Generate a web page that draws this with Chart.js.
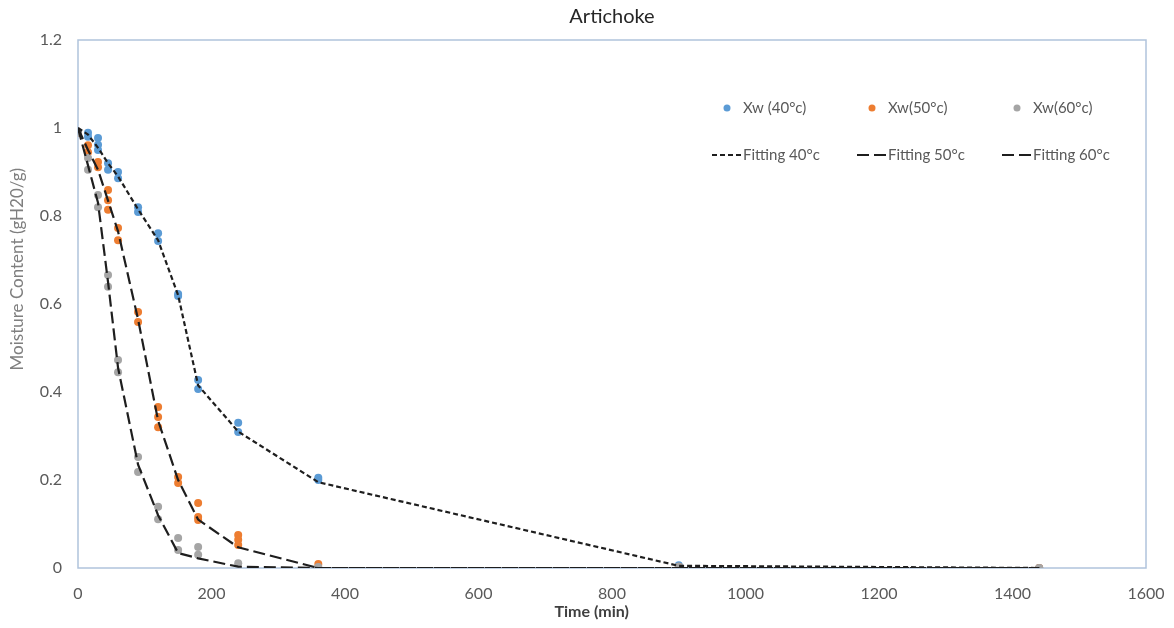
<!DOCTYPE html>
<html>
<head>
<meta charset="utf-8">
<script src="https://cdn.jsdelivr.net/npm/chart.js@4/dist/chart.umd.min.js"></script>
<style>
  html, body { margin: 0; padding: 0; background: #ffffff; }
  canvas { display: block; }
</style>
</head>
<body>
<canvas id="chart" width="1174" height="628"></canvas>
<script>
// Measured moisture content Xw (gH2O/g) against drying time (min), replicates included
const obsTime40 = [0, 15, 15, 30, 30, 30, 45, 45, 60, 60, 90, 90, 120, 120, 150, 150, 180, 180, 240, 240, 360, 360, 900, 1440];
const obsXw40   = [0.99, 0.989, 0.98, 0.977, 0.962, 0.95, 0.92, 0.905, 0.9, 0.886, 0.82, 0.809, 0.761, 0.743, 0.623, 0.618, 0.427, 0.407, 0.33, 0.309, 0.205, 0.2, 0.006, 0.0];

const obsTime50 = [0, 15, 15, 30, 30, 45, 45, 45, 60, 60, 90, 90, 120, 120, 120, 150, 150, 180, 180, 180, 240, 240, 240, 360, 900, 1440];
const obsXw50   = [0.99, 0.961, 0.945, 0.923, 0.911, 0.859, 0.836, 0.814, 0.773, 0.745, 0.582, 0.559, 0.366, 0.343, 0.32, 0.207, 0.193, 0.148, 0.116, 0.109, 0.075, 0.064, 0.052, 0.009, 0.003, 0.0];

const obsTime60 = [0, 15, 15, 30, 30, 45, 45, 60, 60, 90, 90, 120, 120, 150, 150, 180, 180, 240, 360, 900, 1440];
const obsXw60   = [0.99, 0.932, 0.905, 0.848, 0.82, 0.666, 0.639, 0.473, 0.445, 0.252, 0.218, 0.139, 0.111, 0.068, 0.041, 0.048, 0.03, 0.011, 0.002, 0.003, 0.0];

// Fitted drying curves, evaluated at the sampling times
const fitTime = [0, 15, 30, 45, 60, 90, 120, 150, 180, 240, 360, 900, 1440];
const fit40   = [1.0, 0.985, 0.955, 0.92, 0.89, 0.815, 0.745, 0.62, 0.415, 0.31, 0.195, 0.005, 0.0];
const fit50   = [1.0, 0.95, 0.905, 0.835, 0.765, 0.565, 0.335, 0.2, 0.11, 0.047, 0.0, 0.0, 0.0];
const fit60   = [1.0, 0.915, 0.83, 0.65, 0.455, 0.235, 0.12, 0.034, 0.022, 0.003, 0.0, 0.0, 0.0];

// Axis ticks
const xTickValues = [0, 200, 400, 600, 800, 1000, 1200, 1400, 1600];
const yTickValues = [0, 0.2, 0.4, 0.6, 0.8, 1, 1.2];

const FONT = 'Lato, "Open Sans", "Liberation Sans", sans-serif';
const TEXT_GREY = '#595959';

const toPoints = (xs, ys) => xs.map((x, i) => ({ x: x, y: ys[i] }));

function pointSeries(label, xs, ys, color, order) {
  return {
    label: label,
    data: toPoints(xs, ys),
    showLine: false,
    pointRadius: 4,
    pointHoverRadius: 4,
    pointBackgroundColor: color,
    pointBorderWidth: 0,
    borderColor: color,
    backgroundColor: color,
    order: order
  };
}

function fitSeries(label, ys, dash) {
  return {
    label: label,
    data: toPoints(fitTime, ys),
    showLine: true,
    pointRadius: 0,
    borderColor: '#1E1E1E',
    borderWidth: 2.2,
    borderDash: dash,
    tension: 0,
    fill: false,
    order: 0
  };
}

// Chart title, axis titles, plot-area frame and the two-row legend
const framePlugin = {
  id: 'frame',
  beforeDatasetsDraw(chart) {
    const a = chart.chartArea;
    const ctx = chart.ctx;
    ctx.save();
    ctx.strokeStyle = '#B0C3DC';
    ctx.lineWidth = 1.5;
    ctx.strokeRect(a.left, a.top, a.right - a.left, a.bottom - a.top);
    ctx.restore();
  },
  afterDraw(chart) {
    const a = chart.chartArea;
    const ctx = chart.ctx;
    const w = a.right - a.left;
    const h = a.bottom - a.top;
    ctx.save();

    // chart title, centred over the plot area
    ctx.fillStyle = '#262626';
    ctx.font = '20px ' + FONT;
    ctx.textAlign = 'center';
    ctx.textBaseline = 'middle';
    ctx.fillText('Artichoke', a.left + w / 2, 17);

    // x axis title
    ctx.fillStyle = '#404040';
    ctx.font = 'bold 16px ' + FONT;
    ctx.fillText('Time (min)', a.left + w * 0.481, 612);

    // y axis title
    ctx.save();
    ctx.translate(18, a.top + h * 0.434);
    ctx.rotate(-Math.PI / 2);
    ctx.fillStyle = '#7F7F7F';
    ctx.font = '17px ' + FONT;
    ctx.fillText('Moisture Content (gH20/g)', 0, 0);
    ctx.restore();

    // legend: markers in the first row, fitted curves in the second
    const cols = [712, 857, 1002];
    const rows = [108, 155];
    ctx.font = '15px ' + FONT;
    ctx.textAlign = 'left';
    ctx.textBaseline = 'middle';
    chart.data.datasets.forEach((ds, i) => {
      const row = i < 3 ? 0 : 1;
      const col = cols[i % 3];
      const y = rows[row];
      if (row === 0) {
        ctx.beginPath();
        ctx.fillStyle = ds.pointBackgroundColor;
        ctx.arc(col + 15, y, 3.5, 0, Math.PI * 2);
        ctx.fill();
      } else {
        ctx.beginPath();
        ctx.strokeStyle = ds.borderColor;
        ctx.lineWidth = ds.borderWidth;
        ctx.setLineDash(ds.borderDash);
        ctx.moveTo(col, y);
        ctx.lineTo(col + 30, y);
        ctx.stroke();
        ctx.setLineDash([]);
      }
      ctx.fillStyle = TEXT_GREY;
      ctx.fillText(ds.label, col + 31, y);
    });
    ctx.restore();
  }
};

new Chart(document.getElementById('chart'), {
  type: 'scatter',
  data: {
    datasets: [
      pointSeries('Xw (40°c)', obsTime40, obsXw40, '#5B9BD5', 3),
      pointSeries('Xw(50°c)', obsTime50, obsXw50, '#ED7D31', 2),
      pointSeries('Xw(60°c)', obsTime60, obsXw60, '#A5A5A5', 1),
      fitSeries('Fitting 40°c', fit40, [5, 3]),
      fitSeries('Fitting 50°c', fit50, [12, 5]),
      fitSeries('Fitting 60°c', fit60, [12, 5])
    ]
  },
  options: {
    responsive: false,
    animation: false,
    layout: { padding: { top: 40, right: 28, bottom: 0, left: 0 } },
    plugins: {
      legend: { display: false },
      tooltip: { enabled: false },
      title: { display: false }
    },
    scales: {
      x: {
        type: 'linear',
        min: 0,
        max: 1600,
        afterBuildTicks: s => { s.ticks = xTickValues.map(v => ({ value: v })); },
        afterFit: s => { s.height = 60; s.paddingLeft = 0; s.paddingRight = 0; },
        grid: { display: false, drawTicks: false },
        border: { display: false },
        ticks: {
          padding: 16,
          color: TEXT_GREY,
          font: { family: FONT, size: 16 },
          maxRotation: 0,
          callback: v => String(v)
        }
      },
      y: {
        type: 'linear',
        min: 0,
        max: 1.2,
        afterBuildTicks: s => { s.ticks = yTickValues.map(v => ({ value: v })); },
        afterFit: s => { s.width = 78; s.paddingTop = 0; s.paddingBottom = 0; },
        grid: { display: false, drawTicks: false },
        border: { display: false },
        ticks: {
          padding: 16,
          color: TEXT_GREY,
          font: { family: FONT, size: 16 },
          callback: v => String(v)
        }
      }
    }
  },
  plugins: [framePlugin]
});
</script>
</body>
</html>
